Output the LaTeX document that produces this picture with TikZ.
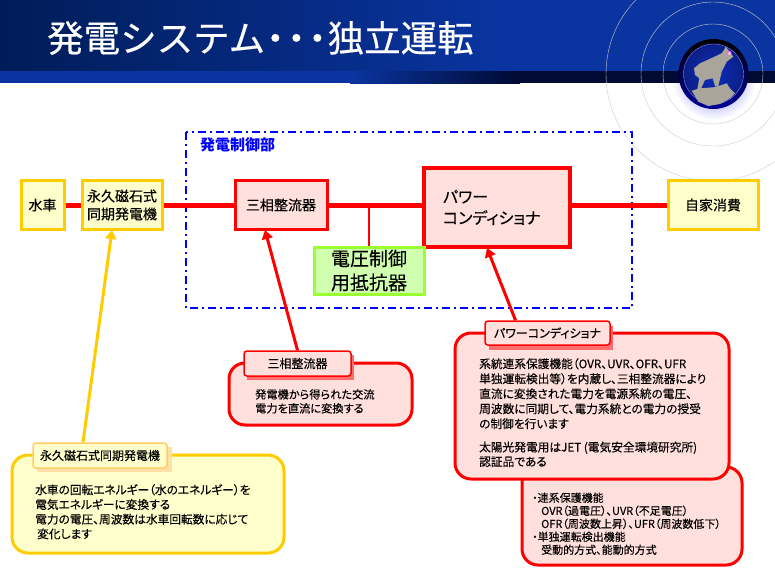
\documentclass[tikz,border=0pt]{standalone}
\usepackage{fontspec}
\setmainfont{Noto Sans CJK JP}[FakeBold=0.25,RawFeature={+palt},BoldFeatures={FakeBold=0}]
\newfontfamily\titlefont{Noto Sans CJK JP}[FakeBold=0.3]
\usetikzlibrary{positioning, arrows.meta, shadings}

\tikzset{
    plainbox/.style={draw, line width=3pt, align=center, inner sep=0pt, font=\fontsize{14}{18}\selectfont},
    yellowbox/.style={plainbox, draw=lineyellow, fill=fillyellow},
    redbox/.style={plainbox, draw=red, fill=fillred},
    panel/.style={draw, line width=3pt, rounded corners=16pt},
    tabbox/.style={draw, line width=1.5pt, rounded corners=3pt, inner sep=0pt, align=center, font=\fontsize{12}{14}\selectfont},
    bodytext/.style={align=left, anchor=north west, inner sep=0pt, font=\fontsize{11.7}{15}\selectfont},
    wire/.style={red, line width=5pt},
    pointer/.style={line width=3pt, -{Triangle[length=9pt,width=11pt]}}
}

\begin{document}
\begin{tikzpicture}[x=1pt,y=-1pt]
    % Colores
    \definecolor{lineyellow}{RGB}{255,204,0}
    \definecolor{fillyellow}{RGB}{255,255,204}
    \definecolor{fillred}{RGB}{255,224,220}
    \definecolor{headblue}{RGB}{10,52,160}
    \definecolor{headnavy}{RGB}{0,10,50}
    \definecolor{headdark}{RGB}{0,28,88}
    \definecolor{tabyellow}{RGB}{255,204,102}
    \definecolor{shadeyellow}{RGB}{255,224,170}
    \definecolor{shadered}{RGB}{255,110,110}
    \definecolor{linegreen}{RGB}{153,255,51}
    \definecolor{fillgreen}{RGB}{208,255,176}
    \definecolor{ringgray}{RGB}{205,205,205}
    \definecolor{goatgray}{RGB}{170,165,155}
    \definecolor{ballblue}{RGB}{15,45,190}

    \useasboundingbox (0,0) rectangle (775,581);
    \fill[white] (0,0) rectangle (775,581);

    % Cabecera
    \shade[left color=headdark, right color=headblue] (0,0) rectangle (500,71);
    \fill[headblue] (500,0) rectangle (775,71);
    \fill[headblue] (0,71) rectangle (350,83);
    \shade[left color=headblue, right color=headnavy] (350,71) rectangle (520,83);
    \fill[headnavy] (520,71) rectangle (775,83);
    \node[white, anchor=west, inner sep=0pt, font=\titlefont\fontsize{36.5}{38}\selectfont] (title) at (47,38) {発電システム\hspace*{-8pt}・\hspace*{-15.5pt}・\hspace*{-15.5pt}・\hspace*{-8pt}独立運転};

    % Logo
    \begin{scope}
        \clip (640,83) rectangle (775,125);
        \shade[inner color=blue!60, outer color=white] (714,78) circle (42);
    \end{scope}
    \begin{scope}
        \clip (0,0) rectangle (775,581);
        \draw[ringgray] (713,74) circle (50);
        \draw[ringgray] (713,74) circle (72);
        \draw[ringgray] (713,74) circle (107);
    \end{scope}
    \shade[top color=black, bottom color=blue!60!black] (713.5,74) circle (35);
    \shade[inner color=ballblue, outer color=ballblue!70!black, draw=white!50!blue] (713.5,74) circle (30);
    \fill[goatgray] (725.7,46.7) -- (728.3,50) -- (733.3,56.7) -- (726.7,61.7) -- (721.7,71.7) -- (718.3,86) -- (715,86) -- (712.7,78.3) -- (705,80) -- (700.7,89.3) -- (697.3,89.3) -- (699.3,78.3) -- (695,75) -- (694,68.3) -- (700,63.3) -- (713.3,57.3) -- (721.7,53.3) -- (724,50) -- cycle;
    \fill[goatgray] (691.7,90.7) -- (700,88.3) -- (713.3,87.3) -- (721.7,85) -- (726.7,83.3) -- (730,88.3) -- (735,93.3) -- (730,98.3) -- (720,104) -- (708.3,106) -- (698.3,101.7) -- cycle;
    \shade[inner color=white, outer color=white!30!magenta, opacity=0.8] (729,53) circle (2.5);

    % Zona de control
    \draw[blue, line width=1.5pt, dash pattern=on 8pt off 4pt on 2pt off 4pt] (186,132) rectangle (632,308);
    \node[blue, font=\fontsize{15}{16}\selectfont\bfseries, anchor=west, inner sep=0pt] (ctrllabel) at (200,145) {発電制御部};

    % Bloques
    \node[yellowbox, minimum width=43pt, minimum height=49pt] (wheel) at (42.5,205) {水車};
    \node[yellowbox, minimum width=80pt, minimum height=49pt] (generator) at (122,205) {永久磁石式\\同期発電機};
    \node[redbox, minimum width=92pt, minimum height=49pt] (rectifier) at (281,205) {三相整流器};
    \node[redbox, line width=4pt, minimum width=146pt, minimum height=79pt, font=\fontsize{16}{21}\selectfont, align=left, text width=108pt] (conditioner) at (497,207.5) {パワー\\コンディショナ};
    \node[yellowbox, minimum width=90pt, minimum height=49pt] (consumer) at (713,205) {自家消費};
    \node[plainbox, draw=linegreen, fill=fillgreen, minimum width=110pt, minimum height=47pt, font=\fontsize{19}{24}\selectfont] (resistor) at (369,270.5) {電圧制御\\用抵抗器};

    % Lineas
    \draw[wire] (wheel) -- (generator);
    \draw[wire] (generator) -- (rectifier);
    \draw[wire] (rectifier) -- (rectifier -| conditioner.west);
    \draw[wire] (consumer -| conditioner.east) -- (consumer);
    \draw[red, line width=2.5pt] (resistor.north |- rectifier) -- (resistor.north);

    % Panel de la red (detras)
    \draw[panel, draw=red, fill=fillred] (522,467) rectangle (742,565);
    \node[bodytext, font=\fontsize{11}{13}\selectfont] (detail) at (532,492.5) {・連系保護機能\\\hspace*{9pt}OVR（過電圧）、UVR（不足電圧）\\\hspace*{9pt}OFR（周波数上昇）、UFR（周波数低下）\\・単独運転検出機能\\\hspace*{9pt}受動的方式、能動的方式};

    % Panel del generador
    \draw[panel, draw=lineyellow, fill=fillyellow] (12,455) rectangle (284,553);
    \fill[shadeyellow] (37,447) rectangle (172,472);
    \node[tabbox, draw=tabyellow, fill=fillyellow, minimum width=134pt, minimum height=25pt] (gentab) at (100,455.5) {永久磁石式同期発電機};
    \node[bodytext, font=\fontsize{11.7}{14.7}\selectfont] (gentext) at (35,484) {水車の回転エネルギー（水のエネルギー）を\\電気エネルギーに変換する\\電力の電圧、周波数は水車回転数に応じて\\\hspace*{2pt}変化します};

    % Panel del rectificador
    \draw[panel, draw=red, fill=fillred] (229,363) rectangle (412,425);
    \fill[shadered] (247,355) rectangle (354,380);
    \node[tabbox, draw=red, fill=fillred, minimum width=107pt, minimum height=25pt] (rectab) at (297.5,363.5) {三相整流器};
    \node[bodytext, font=\fontsize{11.2}{14}\selectfont] (rectext) at (255,389) {発電機から得られた交流\\電力を直流に変換する};

    % Panel del acondicionador
    \draw[panel, draw=red, fill=fillred] (455,333) rectangle (729,479);
    \fill[shadered] (489,326) rectangle (613,350);
    \node[tabbox, draw=red, fill=fillred, minimum width=125pt, minimum height=24pt] (contab) at (547.5,333) {パワーコンディショナ};
    \node[bodytext] (context) at (479,358) {系統連系保護機能（OVR、UVR、OFR、UFR\\単独運転検出等）を内蔵し、三相整流器により\\直流に変換された電力を電源系統の電圧、\\周波数に同期して、電力系統との電力の授受\\の制御を行います};
    \node[bodytext, font=\fontsize{11.7}{14.5}\selectfont] (context2) at (479,441.5) {太陽光発電用はJET (電気安全環境研究所)\\認証品である};

    % Flechas
    \draw[pointer, lineyellow] ([xshift=-17pt]gentab.north) -- ([xshift=-10pt,yshift=1pt]generator.south);
    \draw[pointer, red] (rectab.north) -- ([xshift=-16pt,yshift=1pt]rectifier.south);
    \draw[pointer, red] ([xshift=-32pt]contab.north) -- ([xshift=-10pt,yshift=1pt]conditioner.south);
\end{tikzpicture}
\end{document}
